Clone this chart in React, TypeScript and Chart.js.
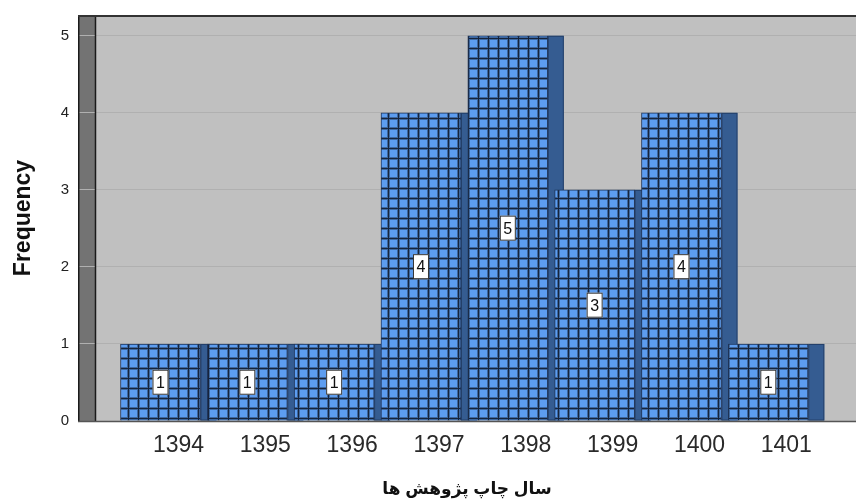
import React, { useEffect, useRef } from "react";
import { Chart, registerables } from "chart.js";

Chart.register(...registerables);

const years = [1394, 1395, 1396, 1397, 1398, 1399, 1400, 1401];
const frequencies = [1, 1, 1, 4, 5, 3, 4, 1];
const yTicks = [0, 1, 2, 3, 4, 5];
const xTitle = "سال چاپ پژوهش ها";
const yTitle = "Frequency";

function makePattern(ctx: CanvasRenderingContext2D) {
  const size = 10;
  const c = document.createElement("canvas");
  c.width = size;
  c.height = size;
  const p = c.getContext("2d")!;
  const img = p.createImageData(size, size);
  const light = [93, 157, 240];
  const dark = [22, 36, 60];
  const prof = [0, 0, 0, 0, 0, 0, 0, 0.45, 1, 0.45];
  for (let yy = 0; yy < size; yy++) {
    for (let xx = 0; xx < size; xx++) {
      const d = Math.max(prof[xx], prof[yy]);
      const i = (yy * size + xx) * 4;
      for (let k = 0; k < 3; k++) img.data[i + k] = Math.round(light[k] + (dark[k] - light[k]) * d);
      img.data[i + 3] = 255;
    }
  }
  p.putImageData(img, 0, 0);
  return ctx.createPattern(c, "repeat");
}

const backgroundPlugin = {
  id: "spssBackground",
  beforeDraw(chart: any) {
    const { ctx, chartArea: a } = chart;
    ctx.save();
    ctx.fillStyle = "#c0c0c0";
    ctx.fillRect(a.left, a.top, a.right - a.left, a.bottom - a.top);
    ctx.fillStyle = "#737373";
    ctx.fillRect(a.left, a.top, 17, a.bottom - a.top);
    ctx.restore();
  },
};

const depthPlugin = {
  id: "depthStrips",
  beforeDatasetsDraw(chart: any) {
    const { ctx } = chart;
    const meta = chart.getDatasetMeta(0);
    ctx.save();
    meta.data.forEach((bar: any) => {
      const { x, y, base, width } = bar.getProps(["x", "y", "base", "width"], true);
      const left = x + width / 2;
      ctx.fillStyle = "#355c91";
      ctx.fillRect(left, y, 16, base - y);
      ctx.strokeStyle = "#24406a";
      ctx.lineWidth = 1;
      ctx.strokeRect(left + 0.5, y + 0.5, 15, base - y - 1);
    });
    ctx.restore();
  },
};

const framePlugin = {
  id: "frameAndLabels",
  afterDatasetsDraw(chart: any) {
    const { ctx, chartArea: a } = chart;
    const meta = chart.getDatasetMeta(0);
    ctx.save();
    ctx.strokeStyle = "#1a1a1a";
    ctx.lineWidth = 1.5;
    ctx.beginPath();
    ctx.moveTo(a.left + 0.75, a.top);
    ctx.lineTo(a.left + 0.75, a.bottom);
    ctx.moveTo(a.left + 17.5, a.top);
    ctx.lineTo(a.left + 17.5, a.bottom);
    ctx.stroke();
    ctx.strokeStyle = "#333";
    ctx.lineWidth = 2;
    ctx.beginPath();
    ctx.moveTo(a.left, a.top + 1);
    ctx.lineTo(a.right, a.top + 1);
    ctx.stroke();
    ctx.strokeStyle = "#555";
    ctx.lineWidth = 1.5;
    ctx.beginPath();
    ctx.moveTo(a.left, a.bottom + 0.5);
    ctx.lineTo(a.right, a.bottom + 0.5);
    ctx.stroke();
    ctx.font = "16px Arial, 'Liberation Sans', sans-serif";
    ctx.textAlign = "center";
    ctx.textBaseline = "middle";
    meta.data.forEach((bar: any, i: number) => {
      const { x, y, base } = bar.getProps(["x", "y", "base"], true);
      const cy = (y + base) / 2;
      const w = 16;
      const h = 25;
      ctx.fillStyle = "#ffffff";
      ctx.fillRect(x - w / 2, cy - h / 2, w, h);
      ctx.strokeStyle = "#333";
      ctx.lineWidth = 1;
      ctx.strokeRect(x - w / 2 + 0.5, cy - h / 2 + 0.5, w - 1, h - 1);
      ctx.fillStyle = "#111";
      ctx.fillText(String(frequencies[i]), x, cy + 1);
    });
    ctx.restore();
  },
};

export default function App() {
  const canvasRef = useRef<HTMLCanvasElement | null>(null);

  useEffect(() => {
    document.body.style.margin = "0";
    const canvas = canvasRef.current!;
    const ctx = canvas.getContext("2d")!;
    const pattern = makePattern(ctx);
    const chart = new Chart(ctx, {
      type: "bar",
      data: {
        datasets: [
          {
            data: years.map((yr, i) => ({ x: yr, y: frequencies[i] })),
            backgroundColor: pattern as any,
            borderColor: "#1f355a",
            borderWidth: 1,
            barThickness: 80,
          },
        ],
      },
      options: {
        animation: false,
        responsive: true,
        maintainAspectRatio: false,
        layout: { padding: { top: 15, right: 0, left: 0, bottom: 0 } },
        plugins: { legend: { display: false }, tooltip: { enabled: false } },
        scales: {
          x: {
            type: "linear",
            min: 1393.05,
            max: 1402.01,
            offset: false,
            afterBuildTicks: (axis: any) => {
              axis.ticks = years.map((v) => ({ value: v }));
            },
            afterFit: (axis: any) => {
              axis.height = 83;
              axis.paddingLeft = 0;
              axis.paddingRight = 0;
            },
            grid: { display: false, drawTicks: false },
            border: { display: false },
            ticks: {
              labelOffset: 18,
              padding: 11,
              autoSkip: false,
              maxRotation: 0,
              font: { family: "Arial, 'Liberation Sans', sans-serif", size: 23 },
              color: "#2a2a2a",
              callback: (v: any) => String(v),
            },
            title: {
              display: true,
              text: xTitle,
              font: { family: "Arial, 'DejaVu Sans', sans-serif", size: 17, weight: "bold" },
              color: "#111",
              padding: { top: 0, bottom: 4 },
            },
          },
          y: {
            min: 0,
            max: 5.27,
            afterBuildTicks: (axis: any) => {
              axis.ticks = yTicks.map((v) => ({ value: v }));
            },
            afterFit: (axis: any) => {
              axis.width = 78;
              axis.paddingTop = 0;
              axis.paddingBottom = 0;
            },
            grid: { color: "#b0b0b0", drawTicks: false, lineWidth: 1 },
            border: { display: false },
            ticks: {
              padding: 9,
              font: { family: "Arial, 'Liberation Sans', sans-serif", size: 15 },
              color: "#222",
              callback: (v: any) => String(v),
            },
            title: {
              display: true,
              text: yTitle,
              font: { family: "Arial, 'Liberation Sans', sans-serif", size: 23, weight: "bold" },
              color: "#111",
              padding: { top: 10, bottom: 0 },
            },
          },
        },
      } as any,
      plugins: [backgroundPlugin, depthPlugin, framePlugin],
    });
    return () => chart.destroy();
  }, []);

  return (
    <div style={{ position: "relative", width: 856, height: 504 }}>
      <canvas ref={canvasRef} />
    </div>
  );
}
